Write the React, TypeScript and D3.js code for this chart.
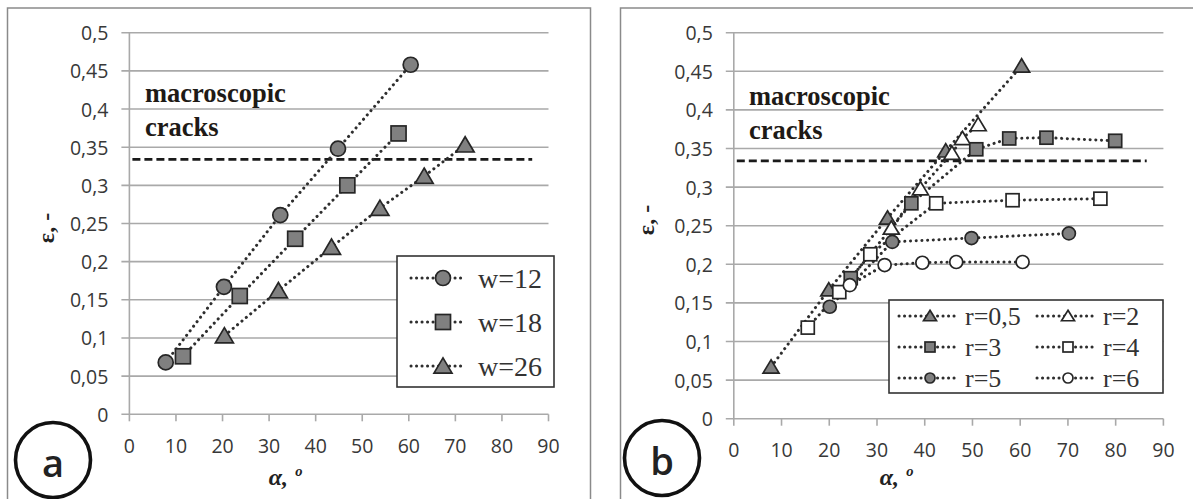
import React from "react";
import * as d3 from "d3";

// ---- data ----
const xTicks = [0, 10, 20, 30, 40, 50, 60, 70, 80, 90];
const yTicks = [0, 0.05, 0.1, 0.15, 0.2, 0.25, 0.3, 0.35, 0.4, 0.45, 0.5];
const crackLevel = 0.334;

// panel a
const angleW12 = [7.8, 20.3, 32.4, 44.8, 60.4];
const strainW12 = [0.068, 0.167, 0.261, 0.348, 0.458];
const angleW18 = [11.5, 23.7, 35.6, 46.8, 57.8];
const strainW18 = [0.076, 0.155, 0.23, 0.3, 0.368];
const angleW26 = [20.4, 32.0, 43.4, 53.8, 63.3, 72.1];
const strainW26 = [0.103, 0.162, 0.219, 0.27, 0.312, 0.353];

// panel b
const angleR05 = [7.8, 19.9, 32.2, 44.4, 60.3];
const strainR05 = [0.067, 0.167, 0.26, 0.347, 0.457];
const angleR2 = [33.0, 39.1, 45.7, 47.9, 51.2];
const strainR2 = [0.247, 0.298, 0.344, 0.363, 0.381];
const angleR3 = [24.5, 37.2, 50.8, 57.7, 65.5, 79.9];
const strainR3 = [0.182, 0.279, 0.349, 0.363, 0.364, 0.36];
const angleR4 = [15.5, 22.1, 28.6, 42.4, 58.4, 76.8];
const strainR4 = [0.118, 0.164, 0.213, 0.279, 0.283, 0.285];
const angleR5 = [20.1, 33.2, 49.8, 70.2];
const strainR5 = [0.145, 0.229, 0.234, 0.24];
const angleR6 = [24.3, 31.6, 39.5, 46.6, 60.5];
const strainR6 = [0.173, 0.199, 0.202, 0.203, 0.203];

type Shape = "circle" | "square" | "triangle";
type Series = { label: string; xs: number[]; ys: number[]; shape: Shape; filled: boolean };

const seriesA: Series[] = [
  { label: "w=12", xs: angleW12, ys: strainW12, shape: "circle", filled: true },
  { label: "w=18", xs: angleW18, ys: strainW18, shape: "square", filled: true },
  { label: "w=26", xs: angleW26, ys: strainW26, shape: "triangle", filled: true },
];
const seriesB: Series[] = [
  { label: "r=0,5", xs: angleR05, ys: strainR05, shape: "triangle", filled: true },
  { label: "r=2", xs: angleR2, ys: strainR2, shape: "triangle", filled: false },
  { label: "r=3", xs: angleR3, ys: strainR3, shape: "square", filled: true },
  { label: "r=4", xs: angleR4, ys: strainR4, shape: "square", filled: false },
  { label: "r=5", xs: angleR5, ys: strainR5, shape: "circle", filled: true },
  { label: "r=6", xs: angleR6, ys: strainR6, shape: "circle", filled: false },
];

const GREY = "#808080";
const INK = "#262626";
const GRID = "#a9a9a9";
const DOT = "#2e2e2e";
const TICKFONT = "'Open Sans', sans-serif";

function Marker({ shape, filled, x, y, s }: { shape: Shape; filled: boolean; x: number; y: number; s: number }) {
  const fill = filled ? GREY : "#fff";
  if (shape === "circle") return <circle cx={x} cy={y} r={s / 2} fill={fill} stroke={INK} strokeWidth={1.7} />;
  if (shape === "square")
    return <rect x={x - s / 2} y={y - s / 2} width={s} height={s} fill={fill} stroke={INK} strokeWidth={1.7} />;
  const h = s * 0.95;
  const pts = `${x},${y - h / 2 - 1} ${x + s / 2 + 1.5},${y + h / 2} ${x - s / 2 - 1.5},${y + h / 2}`;
  return <polygon points={pts} fill={fill} stroke={INK} strokeWidth={1.7} strokeLinejoin="miter" />;
}

type PanelProps = {
  x0: number; x1: number; yBottom: number; yTop: number;
  series: Series[]; markerSize: number;
  letter: string; letterC: [number, number];
  border: number;
  crackX: number; crackY: number;
  yTitle: [number, number]; xTitle: [number, number];
  legend: React.ReactNode;
};

function Panel(p: PanelProps) {
  const x = d3.scaleLinear().domain([0, 90]).range([p.x0, p.x1]);
  const y = d3.scaleLinear().domain([0, 0.5]).range([p.yBottom, p.yTop]);
  const fmt = (v: number) => String(+v.toFixed(2)).replace(".", ",");
  return (
    <g>
      <rect x={p.border} y={8} width={583} height={560} fill="none" stroke="#8a8a8a" strokeWidth={1.5} />
      {yTicks.map((t) => (
        <g key={t}>
          <line x1={p.x0 - 8} x2={p.x1} y1={y(t)} y2={y(t)} stroke={GRID} strokeWidth={1.6} />
          <text x={p.x0 - 21} y={y(t)} textAnchor="end" dominantBaseline="central"
            fontFamily={TICKFONT} fontSize={19.5} fill="#383838">{fmt(t)}</text>
        </g>
      ))}
      <line x1={p.x0} x2={p.x0} y1={p.yTop} y2={p.yBottom} stroke={GRID} strokeWidth={1.6} />
      {xTicks.map((t) => (
        <g key={t}>
          <line x1={x(t)} x2={x(t)} y1={p.yBottom} y2={p.yBottom + 7} stroke={GRID} strokeWidth={1.6} />
          <text x={x(t)} y={p.yBottom + 31} textAnchor="middle" dominantBaseline="central"
            fontFamily={TICKFONT} fontSize={19.5} fill="#383838">{t}</text>
        </g>
      ))}
      <line x1={p.x0 + 3} x2={x(86.5)} y1={y(crackLevel)} y2={y(crackLevel)}
        stroke="#1a1a1a" strokeWidth={2.6} strokeDasharray="8 4" />
      <text fontFamily="'Liberation Serif', serif" fontWeight="bold" fontSize={26.5} fill="#1e1a16">
        <tspan x={p.crackX} y={p.crackY}>macroscopic</tspan>
        <tspan x={p.crackX} y={p.crackY + 34}>cracks</tspan>
      </text>
      {p.series.map((s) => {
        const d = d3.line<number>()
          .x((_, i) => x(s.xs[i]))
          .y((v) => y(v))(s.ys);
        return (
          <path key={s.label + "l"} d={d ?? ""} fill="none" stroke={DOT} strokeWidth={3}
            strokeDasharray="0.1 5.6" strokeLinecap="round" />
        );
      })}
      {p.series.map((s) =>
        s.ys.map((v, i) => (
          <Marker key={s.label + i} shape={s.shape} filled={s.filled} x={x(s.xs[i])} y={y(v)} s={p.markerSize} />
        ))
      )}
      {p.legend}
      <text transform={`translate(${p.yTitle[0]},${p.yTitle[1]}) rotate(-90)`} textAnchor="middle"
        dominantBaseline="central" fontFamily="'Liberation Serif', serif" fontWeight="bold" fontSize={24} fill="#222">ε, -</text>
      <text x={p.xTitle[0]} y={p.xTitle[1]} textAnchor="middle" fontFamily="'Liberation Serif', serif"
        fontWeight="bold" fontStyle="italic" fontSize={24} fill="#222">α, º</text>
      <circle cx={p.letterC[0]} cy={p.letterC[1]} r={37.5} fill="none" stroke="#111" strokeWidth={3.6} />
      <text x={p.letterC[0]} y={p.letterC[1] + 2} textAnchor="middle" dominantBaseline="central"
        fontFamily={TICKFONT} fontWeight="600" fontSize={38} fill="#222">{p.letter}</text>
    </g>
  );
}

function LegendRow({ s, x, y, len, mx, tx, ms, fs }: { s: Series; x: number; y: number; len: number; mx: number; tx: number; ms: number; fs: number }) {
  return (
    <g>
      <line x1={x} x2={x + len} y1={y} y2={y} stroke={DOT} strokeWidth={3} strokeDasharray="0.1 5.4" strokeLinecap="round" />
      <Marker shape={s.shape} filled={s.filled} x={mx} y={y} s={ms} />
      <text x={tx} y={y} dominantBaseline="central" fontFamily="'Liberation Serif', serif" fontSize={fs} fill="#333">{s.label}</text>
    </g>
  );
}

export default function App() {
  const legendA = (
    <g>
      <rect x={397} y={256} width={157} height={131} fill="#fff" stroke="#333" strokeWidth={1.6} />
      {seriesA.map((s, i) => (
        <LegendRow key={s.label} s={s} x={411} y={278 + i * 44} len={55} mx={443} tx={478} ms={15} fs={28} />
      ))}
    </g>
  );
  const legendB = (
    <g>
      <rect x={889} y={300} width={274} height={93} fill="#fff" stroke="#333" strokeWidth={1.6} />
      {seriesB.map((s, i) => {
        const col = i % 2;
        const row = Math.floor(i / 2);
        const bx = col === 0 ? 899 : 1037;
        return (
          <LegendRow key={s.label} s={s} x={bx} y={316 + row * 31} len={58} mx={bx + 31} tx={bx + 66} ms={10} fs={26} />
        );
      })}
    </g>
  );
  return (
    <svg width={1193} height={499} style={{ position: "absolute", left: 0, top: 0, background: "#fff" }}>
      <rect width={1193} height={499} fill="#fff" />
      <Panel x0={129.4} x1={548.5} yBottom={414.3} yTop={32.7} series={seriesA} markerSize={15}
        letter="a" letterC={[53, 460]} border={7.5} crackX={145} crackY={102}
        yTitle={[46, 228]} xTitle={[285, 485]} legend={legendA} />
      <Panel x0={733.8} x1={1163.4} yBottom={418.7} yTop={32.7} series={seriesB} markerSize={13}
        letter="b" letterC={[662, 458]} border={620.5} crackX={749} crackY={105}
        yTitle={[646, 220]} xTitle={[896, 485]} legend={legendB} />
    </svg>
  );
}
